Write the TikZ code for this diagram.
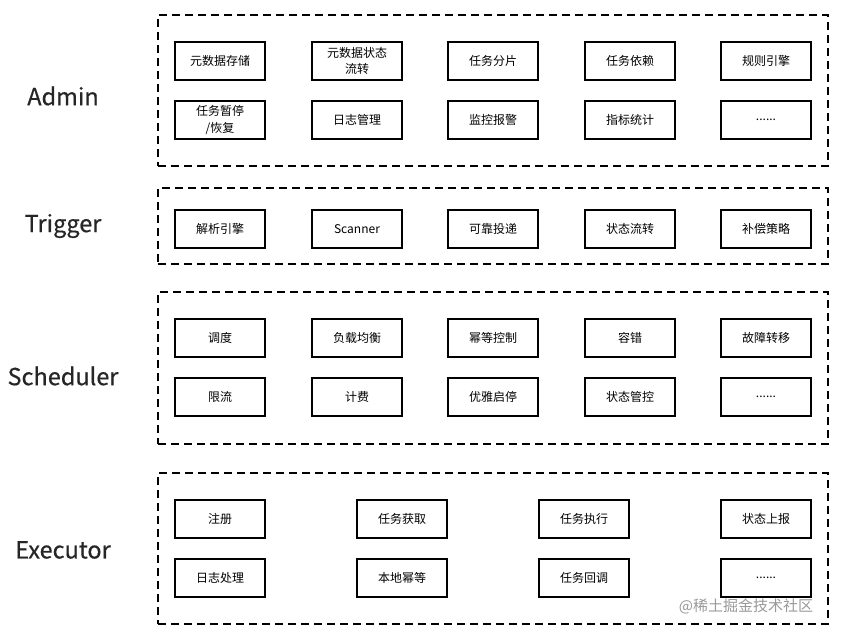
\documentclass[tikz,border=0pt]{standalone}
\usepackage{fontspec}
\setmainfont{Noto Sans CJK SC}
\newfontfamily\layerfont[FakeBold=0.5]{Noto Sans CJK SC}
\begin{document}
\begin{tikzpicture}[x=1pt,y=-1pt,
  thick,item node/.style={rectangle,draw,line width=1.3pt,minimum width=90pt,minimum height=38pt,
    inner sep=1pt,align=center,font=\fontsize{12}{16.5}\selectfont},
  layer node/.style={rectangle,draw,line width=1.3pt,dash pattern=on 8pt off 5pt},
  layer label/.style={font=\layerfont\fontsize{23.5}{28}\selectfont,text=black!85}]

  \useasboundingbox (0,0) rectangle (844,636);

  % layers
  \node[layer node,minimum width=670pt,minimum height=151pt] (admin) at (493,90.5) {};
  \node[layer node,minimum width=670pt,minimum height=76pt] (trigger) at (493,226) {};
  \node[layer node,minimum width=670pt,minimum height=152pt] (scheduler) at (493,368) {};
  \node[layer node,minimum width=670pt,minimum height=151pt] (executor) at (493,548.5) {};

  \node[layer label] (l1) at (63,96) {Admin};
  \node[layer label] (l2) at (63,226) {Trigger};
  \node[layer label] (l3) at (63,376) {Scheduler};
  \node[layer label] (l4) at (63,550) {Executor};

  % admin
  \node[item node] (a1) at (220,61) {元数据存储};
  \node[item node] (a2) at (357,61) {元数据状态\\流转};
  \node[item node] (a3) at (493,61) {任务分片};
  \node[item node] (a4) at (630,61) {任务依赖};
  \node[item node] (a5) at (766,61) {规则引擎};
  \node[item node] (a6) at (220,120) {任务暂停\\/恢复};
  \node[item node] (a7) at (357,120) {日志管理};
  \node[item node] (a8) at (493,120) {监控报警};
  \node[item node] (a9) at (630,120) {指标统计};
  \node[item node] (a10) at (766,120) {......};

  % trigger
  \node[item node] (t1) at (220,229) {解析引擎};
  \node[item node] (t2) at (357,229) {Scanner};
  \node[item node] (t3) at (493,229) {可靠投递};
  \node[item node] (t4) at (630,229) {状态流转};
  \node[item node] (t5) at (766,229) {补偿策略};

  % scheduler
  \node[item node] (s1) at (220,338) {调度};
  \node[item node] (s2) at (357,338) {负载均衡};
  \node[item node] (s3) at (493,338) {幂等控制};
  \node[item node] (s4) at (630,338) {容错};
  \node[item node] (s5) at (766,338) {故障转移};
  \node[item node] (s6) at (220,397) {限流};
  \node[item node] (s7) at (357,397) {计费};
  \node[item node] (s8) at (493,397) {优雅启停};
  \node[item node] (s9) at (630,397) {状态管控};
  \node[item node] (s10) at (766,397) {......};

  % executor
  \node[item node] (e1) at (220,519) {注册};
  \node[item node] (e2) at (402,519) {任务获取};
  \node[item node] (e3) at (584,519) {任务执行};
  \node[item node] (e4) at (766,519) {状态上报};
  \node[item node] (e5) at (220,578) {日志处理};
  \node[item node] (e6) at (402,578) {本地幂等};
  \node[item node] (e7) at (584,578) {任务回调};
  \node[item node] (e8) at (766,578) {......};

  \node[font=\fontsize{15}{18}\selectfont,text=black!40] (mark) at (746,606) {@稀土掘金技术社区};
\end{tikzpicture}
\end{document}
